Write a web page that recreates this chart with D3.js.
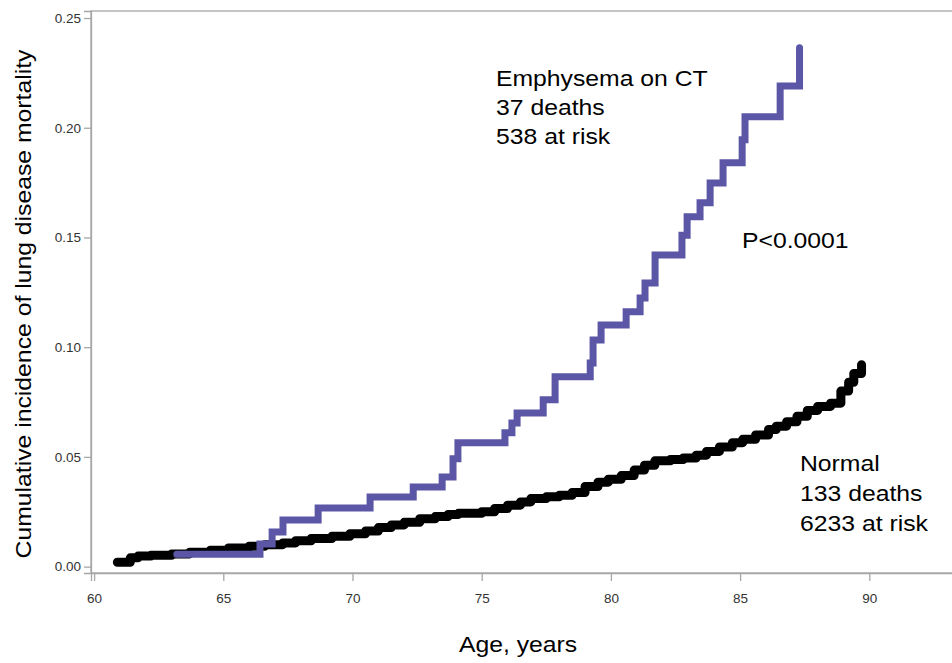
<!DOCTYPE html>
<meta charset="utf-8">
<style>
  body { margin: 0; background: #fff; }
  svg { display: block; font-family: "Liberation Sans", Arial, sans-serif; }
</style>
<svg width="952" height="663"></svg>
<script src="https://cdn.jsdelivr.net/npm/d3@7/dist/d3.min.js"></script>
<script>

// step points (age, cumulative incidence)
var emphysemaAge = [63.2, 66.42, 66.89, 67.31, 68.67, 70.68, 72.35, 73.47, 73.89, 74.08, 75.9, 76.17, 76.37,
                    77.38, 77.84, 79.2, 79.31, 79.62, 80.59, 81.13, 81.32, 81.71, 82.75, 82.95, 83.45,
                    83.84, 84.34, 85.08, 85.19, 86.55, 87.3];
var emphysemaVal = [0.0057, 0.0103, 0.0158, 0.0213, 0.0267, 0.0317, 0.0363, 0.0409, 0.0492, 0.0565, 0.061, 0.0655, 0.070,
                    0.076, 0.0865, 0.0928, 0.1033, 0.1101, 0.1161, 0.1224, 0.1292, 0.142, 0.151, 0.1594, 0.1658,
                    0.1748, 0.184, 0.1945, 0.205, 0.219, 0.2364];

var normalAge = [60.9, 61.4, 61.7, 62.2, 63.0, 63.7, 64.5, 65.2, 66.0, 66.6, 67.3, 67.8, 68.4, 69.2, 69.9,
                 70.5, 71.0, 71.5, 72.0, 72.6, 73.2, 73.7, 74.1, 75.0, 75.5, 76.0, 76.5, 76.9, 77.5, 78.0,
                 78.5, 79.0, 79.5, 79.9, 80.4, 80.9, 81.3, 81.7, 82.3, 82.8, 83.3, 83.7, 84.2, 84.7, 85.1,
                 85.6, 86.1, 86.4, 86.8, 87.2, 87.6, 88.0, 88.5, 88.9, 89.2, 89.4, 89.7];
var normalVal = [0.0020, 0.0040, 0.0048, 0.0052, 0.0058, 0.0066, 0.0075, 0.0085, 0.0093, 0.0100, 0.0108, 0.0118, 0.0128, 0.0138, 0.0150,
                 0.0162, 0.0178, 0.0190, 0.0202, 0.0218, 0.0228, 0.0238, 0.0243, 0.0250, 0.0265, 0.0280, 0.0295, 0.0310, 0.0318, 0.0325,
                 0.0338, 0.0365, 0.0385, 0.0398, 0.0415, 0.0440, 0.0462, 0.0482, 0.0488, 0.0495, 0.0508, 0.0525, 0.0545, 0.0565, 0.0580,
                 0.0600, 0.0625, 0.0640, 0.0660, 0.0685, 0.0712, 0.0730, 0.0745, 0.0800, 0.0840, 0.0880, 0.0920];

var xTicks = [60, 65, 70, 75, 80, 85, 90];
var yTicks = [0, 0.05, 0.10, 0.15, 0.20, 0.25];

var emphysemaLabel = ["Emphysema on CT", "37 deaths", "538 at risk"];
var normalLabel = ["Normal", "133 deaths", "6233 at risk"];
var pLabel = "P<0.0001";

var svg = d3.select("svg");

var x = d3.scaleLinear().domain([59.88, 95]).range([91, 998.5]);
var y = d3.scaleLinear().domain([-0.0029, 0.2532]).range([573, 11]);

// frame
svg.append("rect")
    .attr("x", x.range()[0]).attr("y", y.range()[1])
    .attr("width", x.range()[1] - x.range()[0])
    .attr("height", y.range()[0] - y.range()[1])
    .attr("fill", "none").attr("stroke", "#a6a6a6").attr("stroke-width", 1.3);

var xAxis = svg.append("g")
    .attr("transform", "translate(0," + y.range()[0] + ")")
    .call(d3.axisBottom(x).tickValues(xTicks).tickSize(8).tickPadding(12).tickFormat(d3.format("d")));

var yAxis = svg.append("g")
    .attr("transform", "translate(" + x.range()[0] + ",0)")
    .call(d3.axisLeft(y).tickValues(yTicks).tickSize(7).tickPadding(3).tickFormat(d3.format(".2f")));

[xAxis, yAxis].forEach(function(g) {
  g.select(".domain").attr("stroke", "#a6a6a6").attr("stroke-width", 1.3);
  g.selectAll(".tick line").attr("stroke", "#a6a6a6").attr("stroke-width", 1.3);
  g.selectAll(".tick text").attr("fill", "#333").style("font-size", "13.5px");
});

function series(ages, vals) {
  return ages.map(function(a, i) { return [a, vals[i]]; });
}

var line = d3.line()
    .x(function(d) { return x(d[0]); })
    .y(function(d) { return y(d[1]); })
    .curve(d3.curveStepAfter);

svg.append("path")
    .datum(series(normalAge, normalVal))
    .attr("d", line)
    .attr("fill", "none")
    .attr("stroke", "#000")
    .attr("stroke-width", 9)
    .attr("stroke-linecap", "round")
    .attr("stroke-linejoin", "round");

svg.append("path")
    .datum(series(emphysemaAge, emphysemaVal))
    .attr("d", line)
    .attr("fill", "none")
    .attr("stroke", "#5b57a6")
    .attr("stroke-width", 7)
    .attr("stroke-linecap", "round")
    .attr("stroke-linejoin", "miter");

// text is a bit wider than Liberation Sans, so stretch it slightly
function label(str, px, py, rotate, anchor) {
  svg.append("text")
    .attr("transform", "translate(" + px + "," + py + ")" + (rotate ? " rotate(-90)" : "") + " scale(1.1,1)")
    .attr("text-anchor", anchor || "start")
    .attr("fill", "#000")
    .style("font-size", "22.5px")
    .text(str);
}

emphysemaLabel.forEach(function(s, i) { label(s, 496, 86 + i * 28.8); });
normalLabel.forEach(function(s, i) { label(s, 800, 471 + i * 30); });
label(pLabel, 742, 248);

// axis titles
label("Age, years", 518, 651.5, false, "middle");
label("Cumulative incidence of lung disease mortality", 31, 304, true, "middle");

</script>
